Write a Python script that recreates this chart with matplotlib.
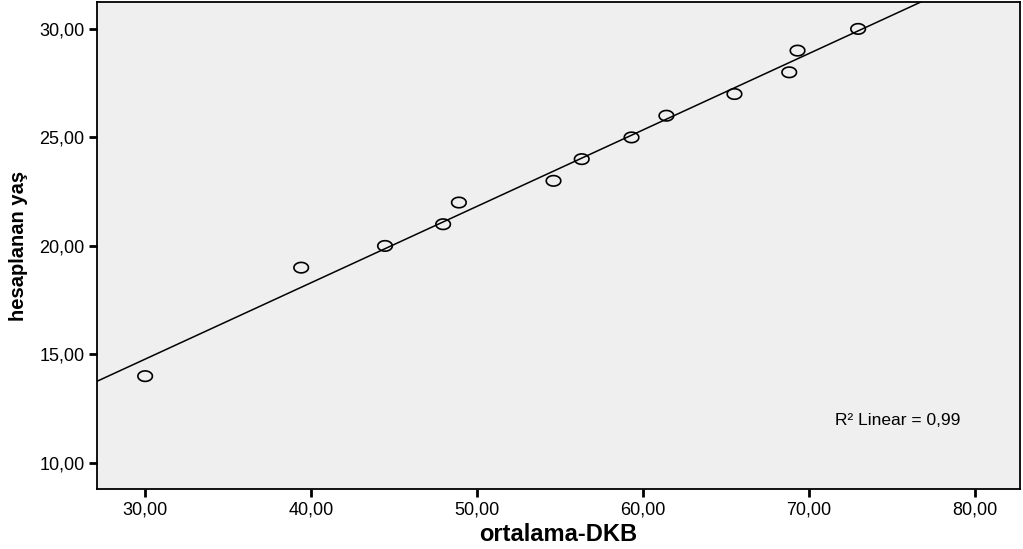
import numpy as np
import matplotlib
matplotlib.use("Agg")
import matplotlib.pyplot as plt
from matplotlib.path import Path

# ortalama-DKB vs hesaplanan yaş
dkb = [30.0, 39.4, 44.45, 47.95, 48.9, 54.6, 56.3, 59.3, 61.4, 65.5, 68.8, 69.3, 72.95]
yas = [14, 19, 20, 21, 22, 23, 24, 25, 26, 27, 28, 29, 30]

xticks = [30, 40, 50, 60, 70, 80]
yticks = [10, 15, 20, 25, 30]

plt.rcParams['font.family'] = ['Liberation Sans', 'DejaVu Sans']

fig = plt.figure(figsize=(10.23, 5.49), dpi=100)
ax = fig.add_axes([97 / 1023, 1 - 489 / 549, (1020 - 97) / 1023, (489 - 2) / 549])
ax.set_facecolor('#efefef')

xlim = (27.1, 82.7)
ylim = (8.8, 31.24)
ax.set_xlim(*xlim)
ax.set_ylim(*ylim)

# regression line over the whole x range
b, a = np.polyfit(dkb, yas, 1)
xs = np.array(xlim)
ax.plot(xs, a + b * xs, color='black', lw=1.1)

# slightly wide ellipse marker like SPSS
t = np.linspace(0, 2 * np.pi, 40)
ell = Path(np.column_stack([np.cos(t) * 1.0, np.sin(t) * 0.72]))
ax.scatter(dkb, yas, marker=ell, s=110, facecolors='none', edgecolors='black', linewidths=1.2, zorder=3)

ax.set_xticks(xticks)
ax.set_yticks(yticks)
ax.set_xticklabels([f"{v:.2f}".replace('.', ',') for v in xticks], fontsize=13)
ax.set_yticklabels([f"{v:.2f}".replace('.', ',') for v in yticks], fontsize=13)
ax.tick_params(length=6, width=2, color='black', pad=3)

for s in ax.spines.values():
    s.set_linewidth(1.3)

ax.set_xlabel('ortalama-DKB', fontsize=17, fontweight='bold', labelpad=3)
ax.set_ylabel('hesaplanan yaş', fontsize=14.5, fontweight='bold', labelpad=8,
              family=['Liberation Sans Narrow', 'Liberation Sans'])

r2 = np.corrcoef(dkb, yas)[0, 1] ** 2
ax.text(0.800, 0.14, f"R² Linear = {r2:.2f}".replace('.', ','), transform=ax.transAxes,
        fontsize=12.5, ha='left', va='center')

fig.savefig('out.png', dpi=100)
